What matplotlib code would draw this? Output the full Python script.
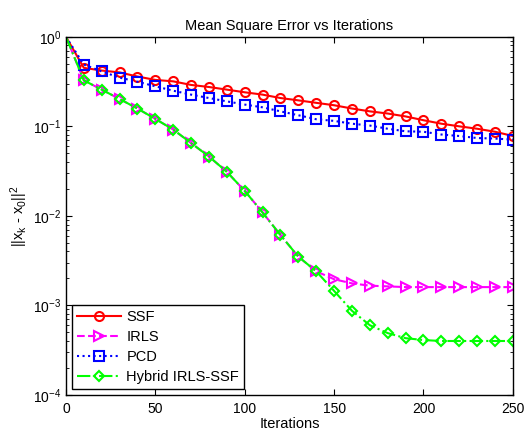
import numpy as np
import matplotlib
matplotlib.use('Agg')
import matplotlib.pyplot as plt

plt.rcParams['font.family'] = 'Liberation Sans'
plt.rcParams['mathtext.fontset'] = 'custom'
plt.rcParams['mathtext.rm'] = 'Liberation Sans'
plt.rcParams['mathtext.it'] = 'Liberation Sans'

# iterations, sampled every 10
iters = np.arange(0, 260, 10)

ssf = [1.0, 0.45, 0.42, 0.40, 0.36, 0.33, 0.318, 0.29, 0.275, 0.257, 0.24,
       0.226, 0.207, 0.195, 0.183, 0.172, 0.158, 0.147, 0.139, 0.129, 0.117,
       0.107, 0.10, 0.094, 0.087, 0.078]
pcd = [1.0, 0.49, 0.41, 0.35, 0.315, 0.28, 0.25, 0.226, 0.207, 0.19, 0.175,
       0.163, 0.147, 0.133, 0.12, 0.115, 0.107, 0.102, 0.094, 0.088, 0.087,
       0.081, 0.078, 0.074, 0.073, 0.071]
irls = [1.0, 0.326, 0.257, 0.202, 0.158, 0.121, 0.092, 0.065, 0.046, 0.031,
        0.019, 0.0109, 0.0061, 0.0035, 0.0024, 0.00196, 0.00176, 0.00166,
        0.00163, 0.0016, 0.0016, 0.0016, 0.0016, 0.0016, 0.0016, 0.0016]
hybrid = [1.0, 0.326, 0.257, 0.202, 0.158, 0.121, 0.092, 0.065, 0.046, 0.031,
          0.019, 0.0109, 0.0061, 0.0035, 0.0024, 0.00145, 0.00087, 0.0006,
          0.00049, 0.00043, 0.00041, 0.0004, 0.0004, 0.0004, 0.0004, 0.0004]

fig = plt.figure(figsize=(5.32, 4.33), dpi=100)
ax = fig.add_axes([0.124, 0.088, 0.84, 0.827])

mk = dict(markevery=slice(1, None), markersize=6.5, markeredgewidth=1.5,
          markerfacecolor='none', linewidth=1.5)
ax.semilogy(iters, ssf, '-o', color='#ff0000', label='SSF', **mk)
ax.semilogy(iters, irls, '-->', color='#ff00ff', label='IRLS', **mk)
ax.semilogy(iters, pcd, ':s', color='#0000ff', label='PCD', **mk)
ax.semilogy(iters, hybrid, '-.D', color='#00ff00', label='Hybrid IRLS-SSF',
            **{**mk, 'markersize': 5.5})

ax.set_xlim(0, 250)
ax.set_ylim(1e-4, 1)
ax.set_xticks([0, 50, 100, 150, 200, 250])
ax.tick_params(which='both', direction='in', top=True, right=True, labelsize=10)
ax.tick_params(axis='x', pad=5)
ax.tick_params(which='major', length=4)
ax.tick_params(which='minor', length=2)
for s in ax.spines.values():
    s.set_linewidth(1.0)

ax.set_title('Mean Square Error vs Iterations', fontsize=10.5, pad=5)
ax.set_xlabel('Iterations', fontsize=10.5, labelpad=1)
ax.set_ylabel(r'$||x_k$ - $x_0||^2$', fontsize=10.5, labelpad=2)

leg = ax.legend(loc='lower left', fontsize=10.5, fancybox=False,
                edgecolor='black', framealpha=1, handlelength=3,
                borderaxespad=0.4, labelspacing=0.4, borderpad=0.35,
                handletextpad=0.4)
leg.get_frame().set_linewidth(1.0)

fig.savefig('out.png', dpi=100)
